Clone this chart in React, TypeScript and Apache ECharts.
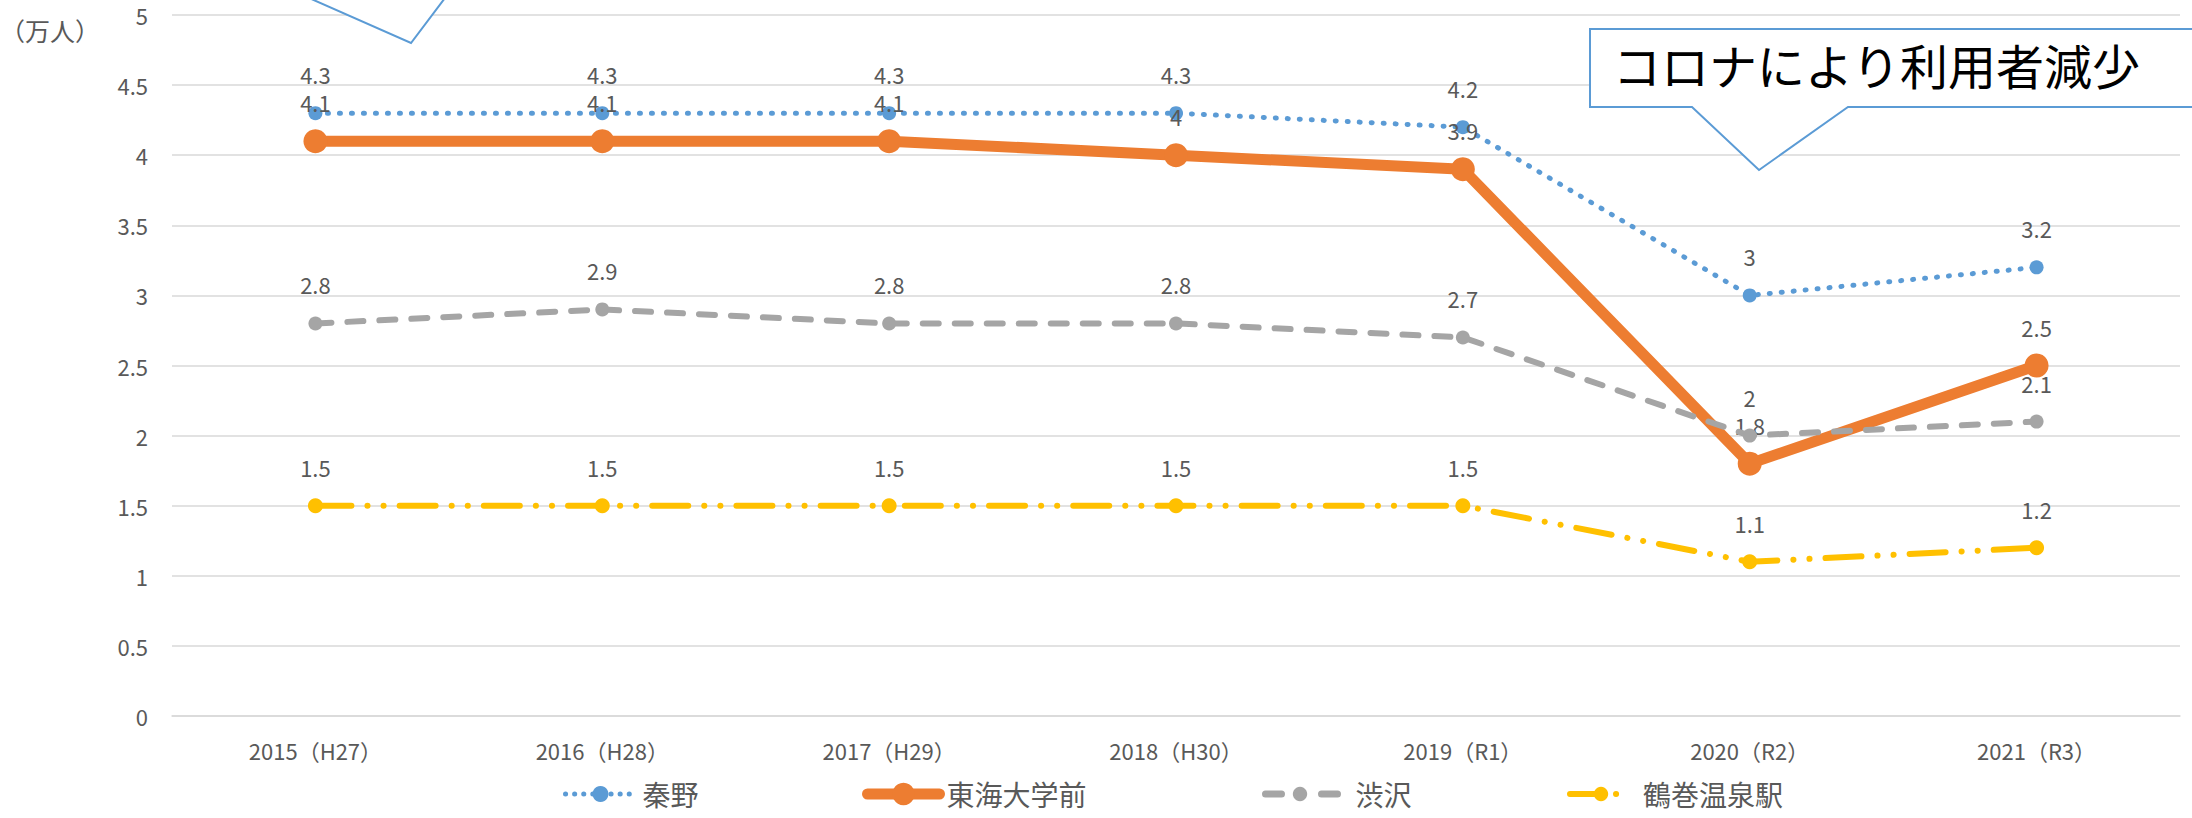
import React, { useEffect, useRef } from "react";
import * as echarts from "echarts";

const categories = [
  "2015（H27）",
  "2016（H28）",
  "2017（H29）",
  "2018（H30）",
  "2019（R1）",
  "2020（R2）",
  "2021（R3）",
];
const seriesNames = ["秦野", "東海大学前", "渋沢", "鶴巻温泉駅"];
const hadano = [4.3, 4.3, 4.3, 4.3, 4.2, 3, 3.2];
const tokaiDaigakumae = [4.1, 4.1, 4.1, 4, 3.9, 1.8, 2.5];
const shibusawa = [2.8, 2.9, 2.8, 2.8, 2.7, 2, 2.1];
const tsurumaki = [1.5, 1.5, 1.5, 1.5, 1.5, 1.1, 1.2];
const yMin = 0;
const yMax = 5;
const yInterval = 0.5;
const unitLabel = "（万人）";
const calloutText = "コロナにより利用者減少";

const FONT = '"Noto Sans CJK JP", "Noto Sans", sans-serif';
const GRAY = "#595959";

export default function App() {
  const ref = useRef<HTMLDivElement>(null);
  useEffect(() => {
    if (!ref.current) return;
    const chart = echarts.init(ref.current, undefined, { renderer: "svg" });
    const label = {
      show: true,
      position: "inside",
      offset: [0, -39],
      color: GRAY,
      fontSize: 22,
      fontFamily: FONT,
    };
    const colors = ["#5B9BD5", "#ED7D31", "#A5A5A5", "#FFC000"];
    const datasets = [hadano, tokaiDaigakumae, shibusawa, tsurumaki];
    const lineStyles: any[] = [
      { width: 5, type: [1, 11], cap: "round" },
      { width: 11, type: "solid", cap: "round" },
      { width: 6, type: [16, 16], cap: "round" },
      { width: 6, type: [36, 16, 0.1, 16, 0.1, 16], cap: "round" },
    ];
    const legendLineStyles: any[] = [
      { width: 5, type: [0.1, 9], cap: "round" },
      { width: 11, type: "solid", cap: "round" },
      { width: 7, type: [16, 40], cap: "round", dashOffset: -4 },
      { width: 6, type: [28, 18, 0.1, 30], cap: "round", dashOffset: -4 },
    ];
    const symbolSizes = [14, 24, 14, 15];
    const legendLefts = [563, 862, 1258, 1563];
    const legendWidths = [70, 72, 77, 70];
    const legendHeights = [20, 28, 18, 18];
    const legendTextPad = [2, 2, 12, 2];

    chart.setOption({
      animation: false,
      grid: { left: 172, right: 12, top: 15, bottom: 102, containLabel: false },
      xAxis: {
        type: "category",
        data: categories,
        boundaryGap: true,
        axisLine: { show: true, lineStyle: { color: "#D9D9D9", width: 1.5 } },
        axisTick: { show: false },
        axisLabel: { color: GRAY, fontSize: 22, fontFamily: FONT, margin: 23 },
      },
      yAxis: {
        type: "value",
        min: yMin,
        max: yMax,
        interval: yInterval,
        axisLine: { show: false },
        axisTick: { show: false },
        splitLine: { lineStyle: { color: "#D9D9D9", width: 1.5 } },
        axisLabel: { color: GRAY, fontSize: 22, fontFamily: FONT, margin: 24 },
      },
      legend: seriesNames.map((n, i) => ({
        data: [n],
        left: legendLefts[i],
        top: 780,
        itemWidth: legendWidths[i],
        itemHeight: legendHeights[i],
        itemGap: 0,
        padding: 0,
        lineStyle: legendLineStyles[i],
        textStyle: {
          fontSize: 28,
          color: GRAY,
          fontFamily: FONT,
          padding: [0, 0, 0, legendTextPad[i]],
        },
      })),
      series: seriesNames.map((n, i) => ({
        name: n,
        type: "line",
        data: datasets[i],
        symbol: "circle",
        symbolSize: symbolSizes[i],
        showAllSymbol: true,
        itemStyle: { color: colors[i] },
        lineStyle: { color: colors[i], ...lineStyles[i] },
        label,
        z: 2 + i,
      })),
      graphic: [
        {
          type: "text",
          left: 0,
          top: 17,
          style: { text: unitLabel, fontSize: 25, fill: GRAY, fontFamily: FONT },
          z: 50,
        },
        {
          type: "polygon",
          shape: {
            points: [
              [-10, -100],
              [720, -100],
              [720, -6],
              [448, -6],
              [411, 43],
              [300, -6],
              [-10, -6],
            ],
          },
          style: { fill: "#ffffff", stroke: "#5B9BD5", lineWidth: 2 },
          z: 100,
        },
        {
          type: "polygon",
          shape: {
            points: [
              [1590, 29],
              [2210, 29],
              [2210, 107],
              [1848, 107],
              [1759, 170],
              [1692, 107],
              [1590, 107],
            ],
          },
          style: { fill: "#ffffff", stroke: "#5B9BD5", lineWidth: 2 },
          z: 100,
        },
        {
          type: "text",
          x: 1613,
          y: 64,
          style: {
            text: calloutText,
            fontSize: 48,
            fill: "#000000",
            fontFamily: FONT,
            verticalAlign: "middle",
          },
          z: 101,
        },
      ],
    });
    return () => chart.dispose();
  }, []);
  return (
    <div
      ref={ref}
      style={{ position: "fixed", left: 0, top: 0, width: 2192, height: 818, background: "#fff" }}
    />
  );
}
